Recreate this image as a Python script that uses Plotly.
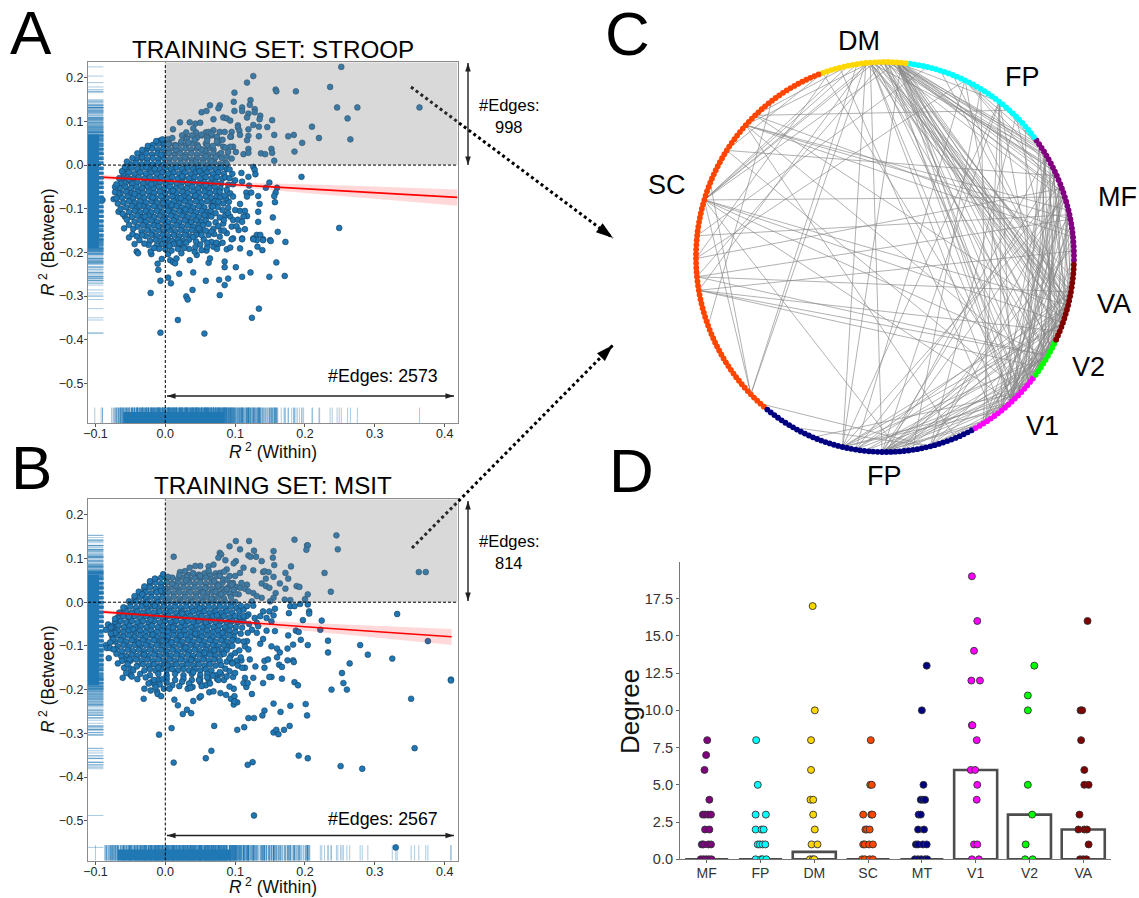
import math
import plotly.graph_objects as go

W, H = 1139, 898
FONT = "Liberation Sans"
BLUE = "#1f77b4"

# ---- Panel A values, thousandths of R^2: (within, between) ----
A_sparse = [(252,225),(126,204),(117,189),(99,166),(158,173),(159,169),(187,169),(236,179),(98,145),(122,149),(246,132),(275,132),(364,132),(261,107),(210,88),(176,66),(184,69),(220,62),(265,59),(196,51),(185,31),(156,69),(153,103),(146,87),(136,113),(135,105),(128,128),(128,121),(121,138),(110,132),(110,124),(99,124),(119,118),(117,109),(126,92),(134,88),(134,66),(119,67),(119,82),(117,57),(104,91),(104,86),(106,79),(107,69),(95,76),(94,65),(97,42),(93,42),(119,37),(112,25),(101,30),(137,27),(143,25),(152,37),(153,28),(156,10),(119,28),(78,137),(76,130),(64,137),(52,121),(59,124),(69,105),(83,109),(88,107),(93,102),(21,98),(11,82),(35,98),(43,95),(50,97),(40,84),(62,76),(69,80),(78,76),(85,76),(93,65),(74,65),(76,50),(83,42),(88,19),(95,15),(88,4),
(195,-27),(126,-4),(128,-11),(129,-21),(109,-18),(119,-27),(110,-38),(97,-44),(120,-47),(149,-40),(144,-52),(160,-52),(158,-63),(156,-71),(157,-85),(133,-71),(116,-63),(123,-63),(117,-72),(88,-57),(93,-65),(97,-72),(107,-89),(107,-105),(114,-105),(100,-103),(133,-107),(117,-117),(112,-118),(135,-89),(154,-120),(133,-130),(161,-153),(249,-144),(105,-149),(114,-147),(95,-141),(86,-115),(93,-118),(97,-126),(83,-134),(88,-156),(78,-164),(97,-168),(131,-160),(136,-160),(126,-168),(140,-170),(110,-168),(150,-172),
(172,-176),(151,-174),(131,-172),(140,-172),(132,-187),(139,-195),(95,-170),(110,-170),(126,-170),(88,-193),(93,-189),(107,-191),(121,-202),(85,-221),(85,-234),(101,-234),(122,-246),(159,-223),(171,-254),(149,-256),(110,-256),(90,-260),(77,-263),(85,-275),(78,-298),(58,-265),(40,-246),(20,-249),(4,-258),(8,-271),(-7,-265),(-10,-240),(-11,-226),(-5,-215),(39,-286),(30,-301),(32,-308),(-21,-293),(18,-355),(56,-386),(-7,-384),(124,-350),(134,-329),(-41,-198),(-44,-181),(-39,-202),(-52,-166),(-20,-204),(-21,-198),(7,-218),(11,-222),(14,-225),(16,-214),(4,-204),(45,-206),(42,-198),(35,-218),(62,-224),(64,-214),(23,-202),(59,-196),(76,-181),(69,-187),
(-90,-80),(-74,-78),(-67,-65),(-72,-50),(-67,-107),(-58,-118),(-59,-145)]
A_loose = [(66,-118),(72,-131),(69,-146),(78,-120),(82,-103),(75,-96),(83,-88),(91,-84),(79,-74),(87,-76),(90,-98),(70,-158),(62,-160),(55,-170),(50,-182),(66,-176),(73,-178),(60,-188),(52,-195),(43,-188),(34,-192),(27,-190),(18,-192),(9,-196),(0,-193),(-9,-192),(-16,-190),(-24,-183),(-30,-180),(-37,-172),(-33,-160),(-41,-163),(-47,-158),(-46,-146),(-52,-137),(-55,-125),(-61,-112),(-64,-100),(-68,-88),(-70,-76),(-72,-62),(-70,-44),(-66,-30),(-62,-14),(-58,-4),(-55,8),(-47,16),(-40,27),(-33,35),(-25,44),(-13,55),
(-44,-66),(-20,-44),(-3,-87),(11,-59),(29,-102),(43,-70),(58,-46),(-29,-118),(3,-142),(24,-26),(-15,-9),(49,-14),(66,8),(31,60),(15,35),(-37,-93),(-10,-140),(37,-130),(-52,-33),(-27,-5),(9,-92),(-6,24),(57,33),(40,-165),(-1,-170),(-18,-74),(22,-76),(56,-115),(-33,18),(4,48),
(52,36),(60,46),(68,44),(74,54),(82,58),(86,40),(80,28),(72,18),(90,30),(33,52),(42,58),(52,70),(60,56),(66,72),(47,42),(23,54),(15,44),(5,28),(28,18),(44,8),(58,20),
(62,-135),(66,-152),(76,-140),(84,-126),(80,-150),(72,-110),(68,-95),(76,-84),(85,-70),(90,-45),(92,-30),(96,-20),(100,-35),(92,-10),(84,-150),(58,-150),(52,-160),(48,-145),(44,-175),(30,-178),(20,-178),(6,-185),(90,-110),(104,-125),(102,-140),(110,-130),(60,-178),(82,-178),(74,-192)]
A_dense = [(56,[-8,0]),(59,[-4,4]),(75,[30,44,58]),(68,[24,38,52,66]),(62,[10,30,45,60,74]),
(46,[-18,-2,14,30,46]),(49,[-10,6,22,38,58]),(35,[-27,-11,5,21,37,53,69]),(38,[-19,-3,13,29,45,61]),
(24,[-35,-19,-3,13,29,45,61,77]),(27,[-27,-11,5,21,37,53,69]),(13,[-42,-26,-10,6,22,38,54,70]),(16,[-34,-18,-2,14,30,46,62,81]),
(2,[-50,-34,-18,-2,14,30,46,62,78]),(5,[-42,-26,-10,6,22,38,54,70,86]),(-9,[-56,-40,-24,-8,8,24,40,56,72,88]),(-6,[-48,-32,-16,0,16,32,48,64,80]),
(-20,[-60,-44,-28,-12,4,20,36,52,68,84]),(-17,[-52,-36,-20,-4,12,28,44,60,76]),(-31,[-62,-46,-30,-14,2,18,34,50,66,82]),(-28,[-54,-38,-22,-6,10,26,42,58,74,86]),
(-42,[-64,-48,-32,-16,0,16,32,48,64,80]),(-39,[-56,-40,-24,-8,8,24,40,56,72]),(-53,[-65,-49,-33,-17,-1,15,31,47,63,79]),(-50,[-57,-41,-25,-9,7,23,39,55,71]),
(-64,[-64,-48,-32,-16,0,16,32,48,64]),(-61,[-56,-40,-24,-8,8,24,40,56,72,78]),(-75,[-62,-46,-30,-14,2,18,34,50,66]),(-72,[-54,-38,-22,-6,10,26,42,58,74]),
(-86,[-60,-44,-28,-12,4,20,36,52,68]),(-83,[-52,-36,-20,-4,12,28,44,60,71]),(-97,[-56,-40,-24,-8,8,24,40,56]),(-94,[-48,-32,-16,0,16,32,48,66]),
(-108,[-52,-36,-20,-4,12,28,44,60]),(-105,[-44,-28,-12,4,20,36,52,65]),(-119,[-48,-32,-16,0,16,32,48]),(-116,[-40,-24,-8,8,24,40,56,62]),
(-130,[-44,-28,-12,4,20,36,52]),(-127,[-36,-20,-4,12,28,44,58]),(-141,[-40,-24,-8,8,24,40]),(-138,[-32,-16,0,16,32,48,54]),
(-152,[-34,-18,-2,14,30,46]),(-149,[-26,-10,6,22,38,50]),(-163,[-28,-12,4,20,36]),(-160,[-20,-4,12,28,44]),
(-174,[-22,-6,10,26]),(-171,[-14,2,18,34]),(-184,[-12,4,20]),(-181,[-4,12,24])]
A_extra_rug_x = [-101,-92,-90,-77,-75,-72,-70,-68,-66,-64,-63,-61,-60,81,82,84,85,87,88,90,91,93,94,96,98,99,101,103,104,106,108,109,111,113,115,116,118,120,122,124,125,127,129,131,133,135,136,138,140,142,144,146,148,150,152,154,156,158,160,166,170,176,181,184,189,192,198,211,221,239]
A_extra_rug_y = [72,74,76,78,80,82,84,86,88,91,93,95,98,100,103,105,108,110,113,116,119,122,125,128,131,134,137,140,143,146,149,-192,-194,-196,-199,-201,-204,-206,-209,-212,-215,-218,-221,-224,-228,-232,-236,-240,-245,-250,-255,-260,-265,-270]
A_rug_core_x = (-60, 84)
A_rug_core_y = (-190, 70)
A_fit_x = [-0.1107,0,0.1,0.2,0.3,0.4184]
A_fit_y = [-0.026,-0.036,-0.045,-0.054,-0.063,-0.074]
A_fit_hi = [-0.020,-0.033,-0.040,-0.044,-0.049,-0.056]
A_fit_lo = [-0.032,-0.039,-0.050,-0.064,-0.077,-0.093]

# ---- Panel B values ----
B_sparse = [(245,153),(185,143),(101,140),(120,140),(92,128),(107,121),(127,118),(155,117),(203,130),(204,130),(202,120),(247,121),(12,104),(78,113),(80,109),(76,102),(86,96),(119,107),(122,104),(130,104),(154,102),(138,94),(101,94),(98,89),(156,85),(180,82),(112,79),(126,73),(140,69),(142,71),(148,69),(172,67),(228,67),(363,69),(373,69),(176,54),(155,58),(144,54),(164,43),(138,43),(144,37),(188,37),(192,35),(172,31),(149,33),(237,24),(204,18),(158,21),(171,6),(179,5),(200,7),(138,10),(126,21),(117,40),(102,35),(107,33),(114,31),(97,44),(119,25),(131,14),(155,10),(150,2),(88,75),(107,67),(100,60),(78,67),(69,86),(62,82),(50,83),(43,83),(35,79),(28,71),(21,69),(-15,54),(-3,64),(4,58),(74,60),(83,52),(93,44),(109,44),(105,18),(124,2),
(332,-27),(224,-42),(222,-63),(233,-88),(233,-115),(279,-98),(290,-120),(325,-129),(264,-140),(253,-162),(376,-89),(409,-177),(204,-5),(193,-4),(179,-9),(185,-9),(206,-21),(206,-26),(177,-25),(197,-41),(187,-65),(191,-68),(176,-76),(194,-86),(204,-98),(183,-97),(175,-106),(160,-106),(164,-115),(152,-101),(140,-84),(136,-95),(145,-65),(157,-66),(131,-47),(133,-55),(119,-28),(116,-32),(140,-21),(149,-21),(157,-15),(155,-30),(145,-36),(136,-32),(128,-36),(112,-17),(117,-9),(126,-8),(152,-44),(131,-70),(124,-63),(117,-89),(114,-101),(119,-108),(121,-131),(109,-133),(102,-134),(95,-137),(88,-136),(142,-134),(147,-131),(160,-126),(163,-143),(167,-148),(175,-133),(183,-133),(184,-137),(142,-150),(129,-147),(114,-150),(152,-171),(167,-175),(149,-171),(126,-173),(114,-173),(97,-171),
(409,-179),(255,-185),(238,-200),(260,-200),(352,-221),(201,-233),(179,-237),(203,-259),(155,-232),(165,-251),(142,-248),(139,-259),(119,-265),(127,-265),(70,-283),(9,-288),(113,-286),(103,-292),(155,-298),(159,-292),(162,-302),(170,-292),(178,-283),(-9,-303),(66,-340),(58,-357),(12,-367),(118,-372),(125,-366),(191,-351),(204,-357),(251,-375),(282,-381),(357,-334),(127,-488),(330,-561),
(-31,-221),(-30,-198),(-21,-202),(-20,-183),(-15,-188),(-8,-188),(-12,-204),(-11,-210),(-6,-215),(-2,-198),(2,-184),(13,-223),(18,-236),(25,-256),(31,-246),(37,-254),(40,-226),(49,-218),(51,-215),(32,-198),(39,-194),(50,-183),(58,-190),(63,-206),(69,-204),(79,-208),(87,-212),(94,-221),(99,-215),(98,-234),(103,-229),(99,-227),(124,-210),(98,-198),(92,-193),(116,-194),(112,-185),(118,-185),(140,-185),(185,-183),(190,-190),
(-85,-63),(-82,-51),(-85,-98),(-84,-105),(-79,-105),(-71,-108),(-81,-128),(-61,-173),(-75,-85),(-77,-55),(-72,-70),(-58,-131),(-63,-124),(-51,-131),(-59,-150),(-50,-152),(-50,-166),(-41,-147)]
B_loose = [(80,-144),(86,-152),(92,-158),(78,-160),(68,-168),(60,-172),(48,-178),(34,-186),(24,-182),(10,-190),(-4,-176),(-16,-178),(-28,-172),(-36,-164),(-46,-156),(-54,-142),(-62,-134),(-70,-118),(-74,-108),(-79,-92),(-78,-72),(-78,-58),(-72,-38),(-66,-24),(-60,-12),(-52,2),(-44,14),(-38,24),(-30,36),(-22,48),(94,-122),(100,-116),(92,-128),(96,-100),(104,-88),(108,-72),(110,-58),(112,-44),(112,-32),(108,-8),(100,20),(95,40),(88,52),(78,60),
(-46,-62),(-21,-40),(-4,-88),(11,-58),(29,-104),(43,-72),(58,-46),(-30,-120),(3,-144),(24,-26),(-15,-8),(49,-14),(66,8),(31,58),(15,37),(-38,-94),(-10,-150),(37,-132),(-52,-33),(-27,-4),(9,-92),(-6,26),(57,33),(40,-160),(-18,-74),(22,-76),(56,-116),(-33,18),(74,-30),(82,-70),(70,-110),
(72,24),(80,18),(88,30),(70,48),(62,72),(50,60),(40,66),(30,50),(20,62),(10,42),(0,30),(92,60),(84,70),(98,28),(76,38),(54,22),
(84,-118),(96,-140),(106,-110),(108,-126),(104,-145),(112,-90),(118,-70),(120,-50),(110,-150),(100,-162),(88,-170),(76,-178),(64,-186),(52,-192),(36,-196),(20,-192),(6,-198),(-14,-194),(-24,-186),(-40,-176),(-56,-162),(-68,-140),(-48,-170)]
B_dense = [(63,[32,48,64]),(66,[40,56,72]),(53,[-14,2,18,34,50,66]),(56,[-6,10,26,42,58]),(42,[-22,-6,10,26,42,58,74]),(45,[-14,2,18,34,50,66,82]),
(31,[-30,-14,2,18,34,50,66,82]),(34,[-22,-6,10,26,42,58,74,90]),(20,[-36,-20,-4,12,28,44,60,76,92]),(23,[-28,-12,4,20,36,52,68,84]),
(9,[-44,-28,-12,4,20,36,52,68,84]),(12,[-36,-20,-4,12,28,44,60,76,94]),(-2,[-50,-34,-18,-2,14,30,46,62,78,94]),(1,[-42,-26,-10,6,22,38,54,70,86,100]),
(-13,[-58,-42,-26,-10,6,22,38,54,70,86,102]),(-10,[-50,-34,-18,-2,14,30,46,62,78,94]),(-24,[-64,-48,-32,-16,0,16,32,48,64,80,96]),(-21,[-56,-40,-24,-8,8,24,40,56,72,88,106]),
(-35,[-68,-52,-36,-20,-4,12,28,44,60,76,92,106]),(-32,[-60,-44,-28,-12,4,20,36,52,68,84,100]),(-46,[-72,-56,-40,-24,-8,8,24,40,56,72,88,104]),(-43,[-64,-48,-32,-16,0,16,32,48,64,80,96]),
(-57,[-75,-59,-43,-27,-11,5,21,37,53,69,85,101]),(-54,[-67,-51,-35,-19,-3,13,29,45,61,77,93]),(-68,[-76,-60,-44,-28,-12,4,20,36,52,68,84,100]),(-65,[-68,-52,-36,-20,-4,12,28,44,60,76,92]),
(-79,[-76,-60,-44,-28,-12,4,20,36,52,68,84,98]),(-76,[-68,-52,-36,-20,-4,12,28,44,60,76,92]),(-90,[-72,-56,-40,-24,-8,8,24,40,56,72,88]),(-87,[-64,-48,-32,-16,0,16,32,48,64,80,96]),
(-101,[-68,-52,-36,-20,-4,12,28,44,60,76,92]),(-98,[-60,-44,-28,-12,4,20,36,52,68,84]),(-112,[-62,-46,-30,-14,2,18,34,50,66,82]),(-109,[-54,-38,-22,-6,10,26,42,58,74,88]),
(-123,[-56,-40,-24,-8,8,24,40,56,72]),(-120,[-48,-32,-16,0,16,32,48,64,80]),(-134,[-50,-34,-18,-2,14,30,46,62,78]),(-131,[-42,-26,-10,6,22,38,54,70]),
(-145,[-40,-24,-8,8,24,40,56,72]),(-142,[-32,-16,0,16,32,48,64]),(-156,[-30,-14,2,18,34,50,66]),(-153,[-22,-6,10,26,42,58]),
(-167,[-22,2,26,50,72]),(-164,[-10,14,38,60,80]),(-178,[-10,14,38,62,84]),(-175,[2,26,50,74])]
B_extra_rug_x = [-100,-87,-85,-84,-82,-80,-78,-76,-74,-72,-70,-68,95,97,99,101,103,105,107,110,112,114,117,119,122,124,127,129,132,134,137,140,142,145,148,151,154,156,159,162,165,168,171,174,177,180,183,186,189,192,195,198,201,204,207]
B_extra_rug_y = [64,66,68,70,72,74,76,78,80,82,85,87,90,93,96,99,102,105,108,112,116,120,125,130,136,142,148,153,-192,-194,-196,-199,-202,-205,-208,-211,-214,-218,-222,-226,-230,-234,-238,-242,-247,-252,-258,-264,-270,-277,-284,-291,-298,-305,-335,-345,-352,-358,-366,-372,-378]
B_rug_core_x = (-68, 94)
B_rug_core_y = (-190, 62)
B_fit_x = [-0.1,0,0.1,0.2,0.3,0.41]
B_fit_y = [-0.021,-0.033,-0.044,-0.056,-0.067,-0.079]
B_fit_hi = [-0.016,-0.030,-0.039,-0.047,-0.054,-0.061]
B_fit_lo = [-0.026,-0.036,-0.050,-0.065,-0.081,-0.098]

# ---- Panel C: networks and edges between node numbers ----
networks = ["MF","FP","DM","SC","MT","V1","V2","VA"]
net_sizes = [29,34,20,90,50,18,9,18]
net_colors = ["#800080","#00ffff","#ffd700","#ff4500","#000080","#ff00ff","#00ff00","#800000"]
edges = [(65,258),(65,254),(65,261),(65,252),(65,246),(65,248),(65,243),(65,233),(65,239),(65,236),(65,24),(65,20),(65,14),(65,17),(65,27),(65,40),(65,122),
(71,258),(71,255),(71,261),(71,246),(71,233),(71,230),(71,201),(71,24),(71,122),(71,103),(68,259),(68,252),(68,243),(68,236),(68,21),(68,13),(68,139),
(64,260),(64,248),(64,234),(64,192),(64,18),(64,25),(70,264),(70,239),(70,122),(72,257),(72,142),(72,168),(67,23),(67,20),(67,256),(67,233),
(66,26),(66,262),(66,15),(74,168),(74,122),(76,122),(76,100),(78,228),(82,110),(82,236),(80,135),(69,258),(66,257),(69,255),(70,259),(64,256),
(24,233),(24,239),(24,202),(24,230),(24,40),(20,233),(20,236),(20,201),(20,246),(20,49),(14,122),(14,225),(14,233),(14,192),(14,258),
(27,249),(27,238),(27,49),(17,243),(17,230),(17,195),(10,239),(10,212),(10,130),(8,227),(5,103),(5,225),(3,205),(11,248),(11,233),(2,142),(1,236),
(40,233),(40,230),(40,201),(40,225),(40,192),(40,246),(49,236),(49,195),(49,14),(55,258),(35,254),(35,212),(32,239),(45,208),(45,226),(52,258),(37,100),
(122,258),(122,254),(122,233),(122,168),(122,205),(122,246),(103,218),(103,243),(103,11),(103,9),(100,6),(100,255),(110,19),(110,236),
(139,261),(139,9),(139,246),(142,243),(142,246),(142,252),(171,212),(135,49),(135,16),(130,58),(118,168),(150,95),
(201,239),(201,233),(201,236),(201,225),(201,227),(201,246),(201,243),(201,258),(201,254),(201,261),(201,14),(192,72),(192,233),(192,246),(192,254),(192,258),(192,230),
(212,258),(212,233),(212,247),(212,15),(212,229),(195,254),(195,239),(195,261),(197,236),(197,248),(205,233),(205,246),(205,258),(180,212),(185,236),
(233,258),(233,254),(233,261),(233,264),(239,258),(239,252),(239,255),(239,263),(236,254),(236,260),(230,258),(230,251),(225,254),(225,264),(227,258),(227,252),(229,261),(223,258),(232,17),(232,7),(235,15),(235,252),
(246,258),(243,254),(248,261),(248,25),(246,22),(243,25),(243,16),(261,22),(258,8),(254,12),(252,18),(258,26),(256,21),(261,13),(264,9),(250,23),(266,5)]

# ---- Panel D ----
bar_heights = [0,0,0.5,0,0,6,3,2]
deg_MF = [8,7,6,4,3,3,3,3,2,2,1,1,1,1,0,0,0,0,0]
jit_MF = [.01,-.01,-.04,.05,-.07,-.03,.03,.08,-.03,.05,-.09,-.06,.03,.08,-.11,-.06,-.01,.04,.09]
deg_FP = [8,5,3,3,2,2,2,1,1,1,1,0,0,0,0]
jit_FP = [-.08,-.05,-.09,.10,-.09,.02,.06,-.05,-.01,.04,.09,-.09,.01,.04,.11]
deg_DM = [17,10,8,6,4,4,3,2,1,1,0,0,0]
jit_DM = [-.03,.01,-.06,-.06,-.07,-.02,-.02,.01,-.05,.06,-.08,-.03,0]
deg_SC = [8,5,5,3,3,3,2,2,2,1,1,1,1,0,0,0,0]
jit_SC = [.05,.04,.07,-.09,.06,.08,-.05,-.02,.03,-.09,-.06,.02,.09,-.11,-.06,.03,.09]
deg_MT = [13,10,5,4,4,4,3,3,2,2,1,1,1,1,0,0,0,0,0]
jit_MT = [.09,0,.03,-.02,.02,.06,-.06,-.02,-.07,.04,-.11,-.07,.02,.09,-.13,-.07,-.01,.06,.10]
deg_V1 = [19,16,14,12,12,9,9,8,6,6,5,4,1,1,0,0]
jit_V1 = [-.07,.03,-.03,-.08,.08,-.07,-.06,.02,-.09,-.01,.03,.02,-.03,.03,-.07,.06]
deg_V2 = [13,11,10,5,3,1,0,0]
jit_V2 = [.09,-.03,-.03,-.03,.05,-.07,-.08,.06]
deg_VA = [16,10,10,8,6,5,5,3,2,2,2,1,0,0,0]
jit_VA = [.08,-.05,-.02,-.04,.02,.02,.10,-.07,-.09,.02,.07,.10,-.06,0,.06]
degrees = [deg_MF,deg_FP,deg_DM,deg_SC,deg_MT,deg_V1,deg_V2,deg_VA]
jitters = [jit_MF,jit_FP,jit_DM,jit_SC,jit_MT,jit_V1,jit_V2,jit_VA]

# ---- helpers ----
def fx(p): return p / W
def fy(p): return 1 - p / H
def dx(a, b): return [fx(a), fx(b)]
def dy(top, bottom): return [fy(bottom), fy(top)]

def flatten(sparse, dense):
    xs, ys = [], []
    for y, row in dense:
        for x in row:
            xs.append(x / 1000); ys.append(y / 1000)
    for x, y in sparse:
        xs.append(x / 1000); ys.append(y / 1000)
    return xs, ys

XR = [-0.1107, 0.4184]
YR = [-0.591, 0.2355]
fig = go.Figure()
annotations, shapes = [], []

def text(x, y, s, size, color="black", rot=0):
    annotations.append(dict(xref="x5", yref="y5", x=x, y=y, text=s, showarrow=False,
                            font=dict(family=FONT, size=size, color=color), xanchor="center", yanchor="middle", textangle=rot))

def scatter_panel(sx, sy, sparse, dense, fit_x, fit_y, hi, lo, core_x, core_y, ex_x, ex_y):
    xs, ys = flatten(sparse, dense)
    fig.add_trace(go.Scatter(x=xs, y=ys, mode="markers", xaxis=sx, yaxis=sy, showlegend=False,
                             marker=dict(size=5.8, color=BLUE, line=dict(width=0.6, color="#173f5f"))))
    fig.add_trace(go.Scatter(x=fit_x + fit_x[::-1], y=hi + lo[::-1], fill="toself", mode="none", xaxis=sx, yaxis=sy,
                             fillcolor="rgba(255,0,0,0.15)", showlegend=False))
    fig.add_trace(go.Scatter(x=fit_x, y=fit_y, mode="lines", xaxis=sx, yaxis=sy, line=dict(color="red", width=1.6), showlegend=False))
    rx = xs + [v / 1000 for v in ex_x]
    ry = ys + [v / 1000 for v in ex_y]
    tick = dict(width=1, color="rgba(31,119,180,0.38)")
    fig.add_trace(go.Scatter(x=rx, y=[YR[0]] * len(rx), mode="markers", xaxis=sx, yaxis=sy, showlegend=False,
                             marker=dict(symbol="line-ns", size=22, line=tick)))
    fig.add_trace(go.Scatter(x=[XR[0]] * len(ry), y=ry, mode="markers", xaxis=sx, yaxis=sy, showlegend=False,
                             marker=dict(symbol="line-ew", size=22, line=tick)))
    sfx = sx[1:]
    xr = "x" + sfx; yr = "y" + sy[1:]
    shapes.append(dict(type="rect", xref=xr, yref=yr, x0=0, x1=XR[1], y0=0, y1=YR[1], fillcolor="rgba(128,128,128,0.3)", line_width=0, layer="above"))
    shapes.append(dict(type="rect", xref=xr, yref=yr + " domain", x0=core_x[0] / 1000, x1=core_x[1] / 1000, y0=0, y1=11 / 361, fillcolor=BLUE, line_width=0, layer="above"))
    shapes.append(dict(type="rect", xref=xr + " domain", yref=yr, x0=0, x1=11 / 369.5, y0=core_y[0] / 1000, y1=core_y[1] / 1000, fillcolor=BLUE, line_width=0, layer="above"))
    for sh in (dict(x0=0, x1=0, y0=YR[0], y1=YR[1]), dict(x0=XR[0], x1=XR[1], y0=0, y1=0)):
        shapes.append(dict(type="line", xref=xr, yref=yr, line=dict(color="black", width=1, dash="3px,2px"), layer="above", **sh))

scatter_panel("x", "y", A_sparse + A_loose, A_dense, A_fit_x, A_fit_y, A_fit_hi, A_fit_lo, A_rug_core_x, A_rug_core_y, A_extra_rug_x, A_extra_rug_y)
scatter_panel("x2", "y2", B_sparse + B_loose, B_dense, B_fit_x, B_fit_y, B_fit_hi, B_fit_lo, B_rug_core_x, B_rug_core_y, B_extra_rug_x, B_extra_rug_y)

# Panel C
n_nodes = sum(net_sizes)
def node_xy(i):
    a = math.radians(-0.9 + i * 360 / n_nodes)
    return math.cos(a), math.sin(a)
ex, ey = [], []
for a, b in edges:
    xa, ya = node_xy(a); xb, yb = node_xy(b)
    ex += [xa, xb, None]; ey += [ya, yb, None]
fig.add_trace(go.Scatter(x=ex, y=ey, mode="lines", xaxis="x3", yaxis="y3", showlegend=False,
                         line=dict(color="rgba(135,135,135,0.68)", width=0.95)))
start = 0
for name, size, col in zip(networks, net_sizes, net_colors):
    pts = [node_xy(i) for i in range(start, start + size)]
    fig.add_trace(go.Scatter(x=[p[0] for p in pts], y=[p[1] for p in pts], mode="markers", xaxis="x3", yaxis="y3",
                             showlegend=False, name=name, marker=dict(size=5.8, color=col)))
    start += size

# Panel D
fig.add_trace(go.Bar(x=list(range(8)), y=bar_heights, width=0.8, xaxis="x4", yaxis="y4", showlegend=False,
                     marker=dict(color="rgba(0,0,0,0)", line=dict(color="#4d4d4d", width=2.6))))
for k, (dg, jt, col) in enumerate(zip(degrees, jitters, net_colors)):
    fig.add_trace(go.Scatter(x=[k + j for j in jt], y=dg, mode="markers", xaxis="x4", yaxis="y4", showlegend=False,
                             marker=dict(size=7, color=col, line=dict(width=0.9, color="#333333"))))

# Overlay helpers on page-sized axes
def arrow(x0, y0, x1, y1, double=True, width=1.4, size=9, color="#222", dash="solid"):
    ang = math.degrees(math.atan2(x1 - x0, -(y1 - y0)))
    fig.add_trace(go.Scatter(x=[x0, x1], y=[y0, y1], mode="lines", xaxis="x5", yaxis="y5", showlegend=False,
                             line=dict(color=color, width=width, dash=dash)))
    hx = [x1, x0] if double else [x1]
    hy = [y1, y0] if double else [y1]
    ha = [ang, ang + 180] if double else [ang]
    fig.add_trace(go.Scatter(x=hx, y=hy, mode="markers", xaxis="x5", yaxis="y5", showlegend=False,
                             marker=dict(symbol="arrow", size=size, angle=ha, color=color, line=dict(width=0))))

arrow(468, 63, 468, 165)
arrow(468, 501, 468, 601)
arrow(167, 396, 454, 396)
arrow(167, 835.5, 454, 835.5)
arrow(411, 87, 613, 238, double=False, width=3, size=18, color="black", dash="3px,3px")
arrow(412, 548, 613, 345, double=False, width=3, size=18, color="black", dash="3px,3px")

# Text
for x, y, s in [(31, 32, "A"), (31, 467, "B"), (627, 33, "C"), (631, 470, "D")]:
    text(x, y, s, 62)
text(273, 49, "TRAINING SET: STROOP", 24.2)
text(273, 485, "TRAINING SET: MSIT", 24.2)
text(273, 451, "<i>R</i><sup> 2</sup> (Within)", 17.5, "#111")
text(273, 886, "<i>R</i><sup> 2</sup> (Within)", 17.5, "#111")
text(47, 243, "<i>R</i><sup> 2</sup> (Between)", 17.5, "#111", -90)
text(47, 680, "<i>R</i><sup> 2</sup> (Between)", 17.5, "#111", -90)
text(383, 376, "#Edges: 2573", 17.8)
text(383, 819, "#Edges: 2567", 17.8)
text(509, 105, "#Edges:", 16.5)
text(509, 127, "998", 16.5)
text(509, 541, "#Edges:", 16.5)
text(509, 563, "814", 16.5)
for x, y, s in [(859, 41, "DM"), (1022, 77, "FP"), (1117, 197, "MF"), (1114, 304, "VA"), (1088, 367, "V2"), (1042, 426, "V1"), (884, 476, "FP"), (667, 185, "SC")]:
    text(x, y, s, 27)
text(630, 712, "Degree", 26, "#111", -90)

common_tick = dict(tickfont=dict(family=FONT, size=12.5, color="#262626"), ticks="outside", ticklen=3, tickcolor="#555", tickwidth=1,
                   showgrid=False, zeroline=False, showline=True, linecolor="#8c8c8c", linewidth=1.3, mirror=True, automargin=False)
x_ticks = dict(tickvals=[-0.1, 0, 0.1, 0.2, 0.3, 0.4], tickformat=".1f", range=XR, ticklabelstandoff=-4, **common_tick)
y_ticks = dict(tickvals=[-0.5, -0.4, -0.3, -0.2, -0.1, 0, 0.1, 0.2], tickformat=".1f", range=YR, ticklabelstandoff=-2, **common_tick)

fig.update_layout(
    template="none",
    width=W, height=H, autosize=False, margin=dict(l=0, r=0, t=0, b=0),
    paper_bgcolor="white", plot_bgcolor="rgba(0,0,0,0)", showlegend=False,
    annotations=annotations, shapes=shapes, barmode="overlay",
    xaxis=dict(domain=dx(88, 457.5), anchor="y", **x_ticks),
    yaxis=dict(domain=dy(62.3, 423), anchor="x", **y_ticks),
    xaxis2=dict(domain=dx(88, 457.5), anchor="y2", **x_ticks),
    yaxis2=dict(domain=dy(499.3, 860.5), anchor="x2", **y_ticks),
    xaxis3=dict(domain=dx(885 - 189 * 1.05, 885 + 189 * 1.05), range=[-1.05, 1.05], visible=False, anchor="y3", automargin=False),
    yaxis3=dict(domain=dy(257 - 195 * 1.05, 257 + 195 * 1.05), range=[-1.05, 1.05], visible=False, anchor="x3", automargin=False),
    xaxis4=dict(domain=dx(680, 1111), anchor="y4", range=[-0.496, 7.516], tickvals=list(range(8)), ticktext=networks, automargin=False, ticklabelstandoff=-2,
                tickfont=dict(family=FONT, size=14, color="#333"), ticks="outside", ticklen=3, tickcolor="#666",
                showgrid=False, zeroline=False, showline=True, linecolor="#777", linewidth=1.2),
    yaxis4=dict(domain=dy(561.7, 859.3), anchor="x4", range=[0, 19.98], tickvals=[0, 2.5, 5, 7.5, 10, 12.5, 15, 17.5], tickformat=".1f", automargin=False,
                tickfont=dict(family=FONT, size=14.5, color="#333"), ticks="outside", ticklen=3, tickcolor="#666",
                showgrid=False, zeroline=False, showline=True, linecolor="#777", linewidth=1.2),
    xaxis5=dict(domain=[0, 1], range=[0, W], visible=False, anchor="y5", automargin=False),
    yaxis5=dict(domain=[0, 1], range=[H, 0], visible=False, anchor="x5", automargin=False),
)
fig.write_html("out.html", config=dict(displayModeBar=False), post_script="document.body.style.margin='0';")
